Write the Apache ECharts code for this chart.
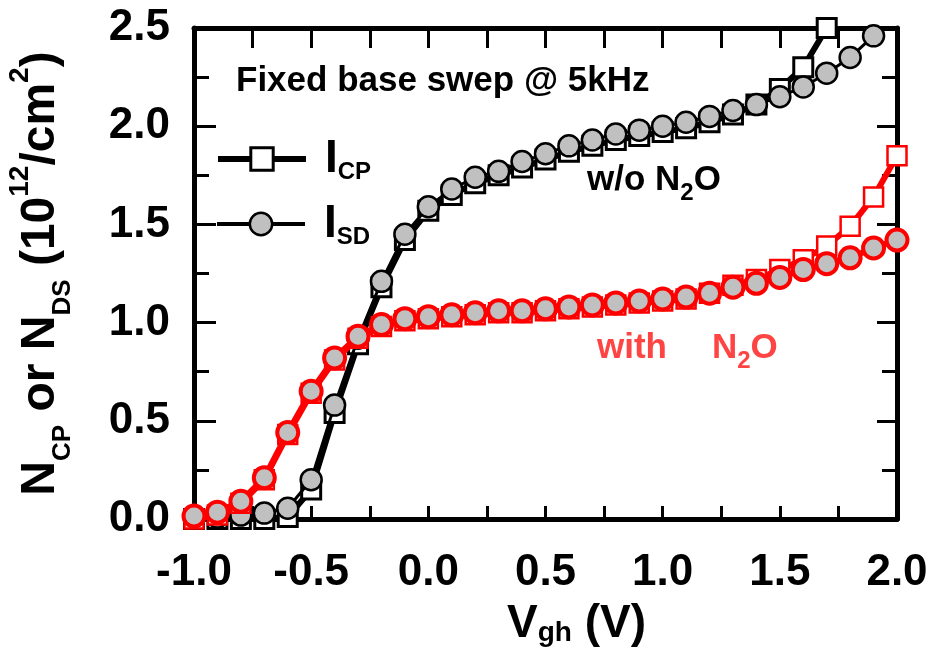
<!DOCTYPE html>
<html><head><meta charset="utf-8">
<script src="https://cdn.jsdelivr.net/npm/echarts@6/dist/echarts.min.js"></script>
<style>html,body{margin:0;padding:0;background:#fff}#c{width:935px;height:663px}</style>
</head><body><div id="c"></div>
<script>
// ---- data ----
const vgh = [-1.0,-0.9,-0.8,-0.7,-0.6,-0.5,-0.4,-0.3,-0.2,-0.1,0.0,0.1,0.2,0.3,0.4,0.5,0.6,0.7,0.8,0.9,1.0,1.1,1.2,1.3,1.4,1.5,1.6,1.7,1.8,1.9,2.0];
// w/o N2O
const icpWithout = [0.0,0.0,0.0,0.0,0.01,0.15,0.54,0.89,1.18,1.42,1.57,1.65,1.71,1.75,1.79,1.83,1.87,1.90,1.93,1.95,1.97,1.99,2.02,2.06,2.11,2.19,2.30,2.50,null,null,null];
const isdWithout = [0.01,0.01,0.02,0.03,0.055,0.20,0.58,0.92,1.21,1.45,1.59,1.68,1.74,1.77,1.82,1.86,1.90,1.93,1.96,1.98,2.00,2.02,2.05,2.08,2.11,2.15,2.20,2.27,2.35,2.46,null];
// with N2O
const icpWith = [0.0,0.02,0.08,0.20,0.43,0.64,0.81,0.92,0.98,1.01,1.02,1.03,1.04,1.05,1.05,1.06,1.07,1.08,1.09,1.10,1.11,1.12,1.15,1.19,1.22,1.27,1.32,1.39,1.49,1.64,1.85];
const isdWith = [0.015,0.035,0.09,0.21,0.44,0.65,0.82,0.93,0.99,1.02,1.03,1.04,1.05,1.06,1.06,1.07,1.08,1.09,1.10,1.11,1.12,1.13,1.15,1.18,1.20,1.23,1.27,1.30,1.33,1.38,1.42];
const xTicks = [-1.0,-0.5,0.0,0.5,1.0,1.5,2.0];
const yTicks = [0.0,0.5,1.0,1.5,2.0,2.5];

const FONT = '"Liberation Sans", Arial, sans-serif';
function pts(arr){ return vgh.map((x,i)=>arr[i]==null?null:[x,arr[i]]).filter(p=>p); }

const chart = echarts.init(document.getElementById('c'), null, {renderer:'canvas'});
const tickStyle = {color:'#000', width:3};
const baseAxis = {
  type:'value', splitLine:{show:false}, minorSplitLine:{show:false},
  axisLine:{onZero:false, lineStyle:{color:'#000', width:5}}
};
const labelStyle = {color:'#000', fontSize:44, fontWeight:'bold', fontFamily:FONT};

const option = {
  animation:false,
  backgroundColor:'#fff',
  grid:{left:194, right:38, top:28, bottom:144, containLabel:false, outerBoundsMode:'none'},
  xAxis:[
    Object.assign({}, baseAxis, {
      position:'bottom', min:xTicks[0], max:xTicks[xTicks.length-1], interval:0.5,
      axisTick:{inside:true, length:13, lineStyle:tickStyle},
      minorTick:{show:true, splitNumber:2, length:13, lineStyle:tickStyle},
      axisLabel:Object.assign({margin:32, formatter:v=>v.toFixed(1)}, labelStyle),
      name:'{v|V}{s|gh}{v| (V)}', nameLocation:'middle', nameGap:82,
      nameTextStyle:{padding:[0,0,0,62], rich:{
        v:{fontSize:46, fontWeight:'bold', fontFamily:FONT, color:'#000', lineHeight:46},
        s:{fontSize:28, fontWeight:'bold', fontFamily:FONT, color:'#000', lineHeight:28, verticalAlign:'bottom'}
      }}
    }),
    Object.assign({}, baseAxis, {
      position:'top', min:xTicks[0], max:xTicks[xTicks.length-1], interval:0.5,
      axisTick:{inside:true, length:20, lineStyle:tickStyle},
      minorTick:{show:true, splitNumber:2, length:20, lineStyle:tickStyle},
      axisLabel:{show:false}
    })
  ],
  yAxis:[
    Object.assign({}, baseAxis, {
      position:'left', min:yTicks[0], max:yTicks[yTicks.length-1], interval:0.5,
      axisTick:{inside:true, length:22, lineStyle:tickStyle},
      minorTick:{show:true, splitNumber:2, length:15, lineStyle:tickStyle},
      axisLabel:Object.assign({margin:24, formatter:v=>v.toFixed(1)}, labelStyle),
      name:'{n|N}{b|CP}{n| or N}{b|DS}{n| (10}{p|12}{n|/cm}{p|2}{n|)}',
      nameLocation:'middle', nameGap:118,
      nameTextStyle:{rich:{
        n:{fontSize:48, fontWeight:'bold', fontFamily:FONT, color:'#000', lineHeight:70},
        b:{fontSize:26, fontWeight:'bold', fontFamily:FONT, color:'#000', lineHeight:26, verticalAlign:'bottom'},
        p:{fontSize:28, fontWeight:'bold', fontFamily:FONT, color:'#000', lineHeight:28, verticalAlign:'top'}
      }}
    }),
    Object.assign({}, baseAxis, {
      position:'right', min:yTicks[0], max:yTicks[yTicks.length-1], interval:0.5,
      axisTick:{inside:true, length:20, lineStyle:tickStyle},
      minorTick:{show:true, splitNumber:2, length:15, lineStyle:tickStyle},
      axisLabel:{show:false}
    })
  ],
  legend:[
    {data:['ICP'], left:215, top:136, orient:'vertical', padding:0, itemWidth:88, itemHeight:28, selectedMode:false,
     lineStyle:{width:6, color:'#000'}, itemStyle:{borderWidth:3, borderColor:'#000', color:'#fff'},
     formatter:()=>'{i|I}{s|CP}',
     textStyle:{rich:{
       i:{fontSize:46, fontWeight:'bold', fontFamily:FONT, color:'#000', lineHeight:50, padding:[0,0,0,14]},
       s:{fontSize:24, fontWeight:'bold', fontFamily:FONT, color:'#000', lineHeight:24, verticalAlign:'bottom'}
     }}},
    {data:['ISD'], left:215, top:201, orient:'vertical', padding:0, itemWidth:88, itemHeight:28, selectedMode:false,
     lineStyle:{width:4, color:'#000'}, itemStyle:{borderWidth:2.5, borderColor:'#000', color:'#c0c0c0'},
     formatter:()=>'{i|I}{s|SD}',
     textStyle:{rich:{
       i:{fontSize:46, fontWeight:'bold', fontFamily:FONT, color:'#000', lineHeight:50, padding:[0,0,0,14]},
       s:{fontSize:24, fontWeight:'bold', fontFamily:FONT, color:'#000', lineHeight:24, verticalAlign:'bottom'}
     }}}
  ],
  graphic:[
    {type:'text', x:236, y:81, style:{text:'Fixed base swep @ 5kHz', font:'bold 35px '+FONT, fill:'#000', verticalAlign:'middle'}},
    {type:'text', x:587, y:180, style:{text:'{a|w/o N}{s|2}{a|O}', verticalAlign:'middle', rich:{
      a:{fontSize:35, fontWeight:'bold', fontFamily:FONT, fill:'#000', color:'#000', lineHeight:50},
      s:{fontSize:24, fontWeight:'bold', fontFamily:FONT, fill:'#000', color:'#000', lineHeight:24, verticalAlign:'bottom'}
    }}},
    {type:'text', x:597, y:348, style:{text:'with', font:'bold 35px '+FONT, fill:'#ff4444', verticalAlign:'middle'}},
    {type:'text', x:712, y:348, style:{text:'{a|N}{s|2}{a|O}', verticalAlign:'middle', rich:{
      a:{fontSize:35, fontWeight:'bold', fontFamily:FONT, fill:'#ff4444', color:'#ff4444', lineHeight:50},
      s:{fontSize:24, fontWeight:'bold', fontFamily:FONT, fill:'#ff4444', color:'#ff4444', lineHeight:24, verticalAlign:'bottom'}
    }}}
  ],
  series:[
    {name:'ICP', type:'line', data:pts(icpWithout), symbol:'rect', symbolSize:19,
     lineStyle:{color:'#000', width:6}, itemStyle:{color:'#fff', borderColor:'#000', borderWidth:3},
     emphasis:{disabled:true}, z:2},
    {name:'ISD', type:'line', data:pts(isdWithout), symbol:'circle', symbolSize:21,
     lineStyle:{color:'#000', width:3}, itemStyle:{color:'#c0c0c0', borderColor:'#000', borderWidth:2.5},
     emphasis:{disabled:true}, z:3},
    {name:'ICP with N2O', type:'line', data:pts(icpWith), symbol:'rect', symbolSize:19,
     lineStyle:{color:'#ff0000', width:6}, itemStyle:{color:'#fff', borderColor:'#ff0000', borderWidth:2.5},
     emphasis:{disabled:true}, z:4},
    {name:'ISD with N2O', type:'line', data:pts(isdWith), symbol:'circle', symbolSize:21,
     lineStyle:{color:'#ff0000', width:6}, itemStyle:{color:'#c0c0c0', borderColor:'#ff0000', borderWidth:4},
     emphasis:{disabled:true}, z:5}
  ]
};
chart.setOption(option);
</script></body></html>
